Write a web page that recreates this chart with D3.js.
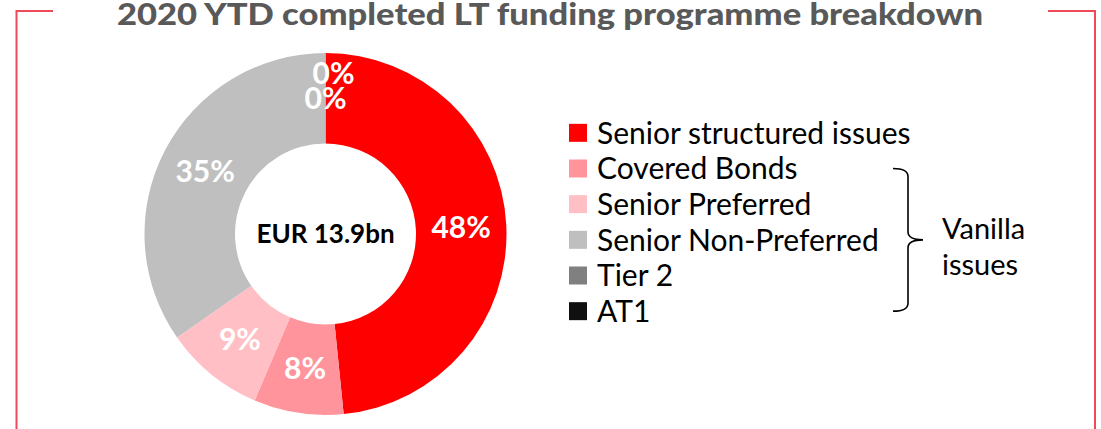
<!DOCTYPE html>
<html>
<head>
<meta charset="utf-8">
<script src="https://cdn.jsdelivr.net/npm/d3@7"></script>
<style>
  body { margin: 0; background: #fff; }
  svg text { font-family: "Lato", "Noto Sans", sans-serif; }
</style>
</head>
<body>
<svg id="chart" width="1101" height="429"></svg>
<script>
// Chart data
var categories = ["Senior structured issues", "Covered Bonds", "Senior Preferred",
                  "Senior Non-Preferred", "Tier 2", "AT1"];
var shares = [48.4, 8.0, 8.9, 34.7, 0, 0];
var labels = ["48%", "8%", "9%", "35%", "0%", "0%"];
var colors = ["#ff0000", "#ff949c", "#ffbfc4", "#bfbfbf", "#808080", "#101010"];
var title = "2020 YTD completed LT funding programme breakdown";
var centerLabel = "EUR 13.9bn";
var bracketLabel = ["Vanilla", "issues"];

var svg = d3.select("#chart");

// Frame corners
var frame = "#ee4a5a";
svg.append("path")
  .attr("d", "M16.5,429 V11 H53")
  .attr("fill", "none").attr("stroke", frame).attr("stroke-width", 2);
svg.append("path")
  .attr("d", "M1048,11 H1095 V429")
  .attr("fill", "none").attr("stroke", frame).attr("stroke-width", 2);

// Title
svg.append("text")
  .attr("x", 550).attr("y", 25)
  .attr("text-anchor", "middle")
  .attr("font-size", 31).attr("font-weight", 900)
  .attr("fill", "#595959")
  .attr("textLength", 866).attr("lengthAdjust", "spacingAndGlyphs")
  .text(title);

// Donut
var cx = 325.5, cy = 234, rOut = 181, rIn = 90.5;
var g = svg.append("g").attr("transform", "translate(" + cx + "," + cy + ")");

var pie = d3.pie().sort(null).value(function(d) { return d; });
var arc = d3.arc().innerRadius(rIn).outerRadius(rOut);
var labelArc = d3.arc().innerRadius((rIn + rOut) / 2).outerRadius((rIn + rOut) / 2);

var arcs = pie(shares);

g.selectAll(".slice")
  .data(arcs)
  .enter().append("path")
  .attr("class", "slice")
  .attr("d", arc)
  .attr("fill", function(d, i) { return colors[i]; });

// nudge for the overlapping zero labels
var nudge = [[0, 0], [0, 0], [0, 0], [0, 0], [8, -25], [0, 0]];

g.selectAll(".pct")
  .data(arcs)
  .enter().append("text")
  .attr("class", "pct")
  .attr("transform", function(d, i) {
    var c = labelArc.centroid(d);
    return "translate(" + (c[0] + nudge[i][0]) + "," + (c[1] + nudge[i][1]) + ")";
  })
  .attr("text-anchor", "middle")
  .attr("dy", "0.36em")
  .attr("font-size", 30).attr("font-weight", "bold")
  .attr("fill", "#fff")
  .text(function(d, i) { return labels[i]; });

g.append("text")
  .attr("x", 0).attr("y", 9)
  .attr("text-anchor", "middle")
  .attr("font-size", 26).attr("font-weight", "bold")
  .attr("fill", "#000")
  .text(centerLabel);

// Legend
var legY = d3.scaleBand().domain(categories).range([115, 329]);
var leg = svg.append("g").attr("class", "legend");
var item = leg.selectAll(".item")
  .data(categories)
  .enter().append("g")
  .attr("class", "item")
  .attr("transform", function(d) { return "translate(569," + (legY(d) + legY.bandwidth() / 2) + ")"; });

item.append("rect")
  .attr("x", 0).attr("y", -9)
  .attr("width", 18).attr("height", 18)
  .attr("fill", function(d, i) { return colors[i]; });

item.append("text")
  .attr("x", 28).attr("dy", "0.36em")
  .attr("font-size", 30)
  .attr("fill", "#000")
  .text(function(d) { return d; });

// Bracket for vanilla issues
var yTop = legY(categories[1]) + legY.bandwidth() / 2;
var yBot = legY(categories[5]) + legY.bandwidth() / 2;
var yMid = (yTop + yBot) / 2;
var bx = 893, bv = 908, bt = 923;
svg.append("path")
  .attr("d", "M" + bx + "," + yTop + " Q" + bv + "," + yTop + " " + bv + "," + (yTop + 8) +
             " V" + (yMid - 8) + " Q" + bv + "," + yMid + " " + bt + "," + yMid +
             " Q" + bv + "," + yMid + " " + bv + "," + (yMid + 8) +
             " V" + (yBot - 8) + " Q" + bv + "," + yBot + " " + bx + "," + yBot)
  .attr("fill", "none").attr("stroke", "#000").attr("stroke-width", 1.6);

svg.append("text")
  .attr("x", 942).attr("y", yMid - 1)
  .attr("font-size", 29).attr("fill", "#000")
  .selectAll("tspan")
  .data(bracketLabel)
  .enter().append("tspan")
  .attr("x", 942)
  .attr("dy", function(d, i) { return i === 0 ? "0" : "1.25em"; })
  .text(function(d) { return d; });
</script>
</body>
</html>
